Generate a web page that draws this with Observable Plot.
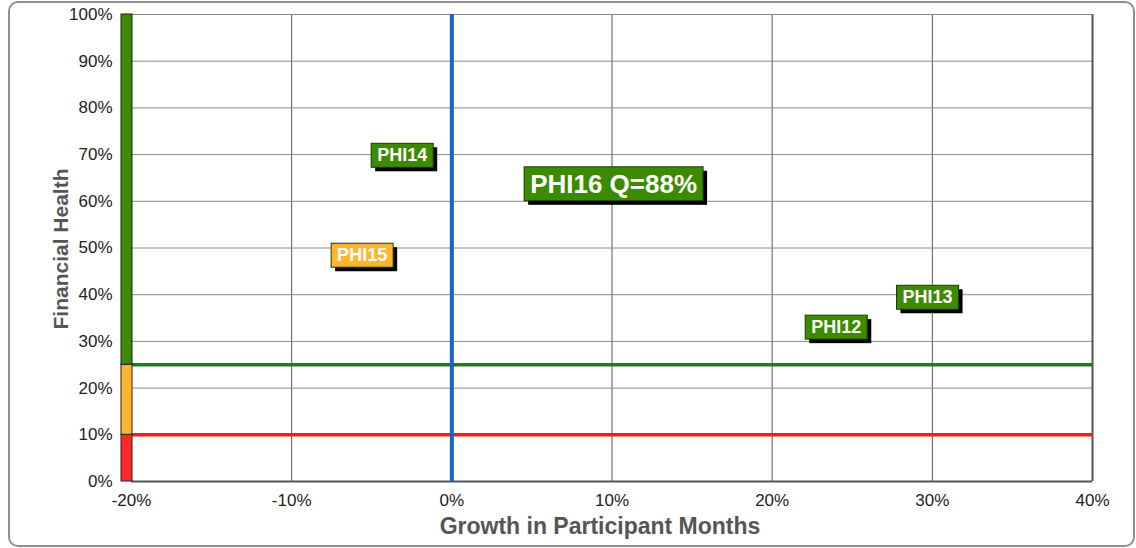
<!DOCTYPE html>
<html>
<head>
<meta charset="utf-8">
<script src="https://cdn.jsdelivr.net/npm/d3@7"></script>
<script src="https://cdn.jsdelivr.net/npm/@observablehq/plot@0.6"></script>
<style>
  body { margin: 0; background: #fff; }
  #wrap { position: relative; width: 1136px; height: 548px; }
  #border { position: absolute; left: 8px; top: 1px; width: 1123px; height: 542px; border: 2px solid #8f8f8f; border-radius: 10px; pointer-events: none; }
</style>
</head>
<body>
<div id="wrap"><div id="border"></div></div>
<script>
// ---- data ----
const names = ["PHI12", "PHI13", "PHI14", "PHI15", "PHI16 Q=88%"];
const growth = [0.240, 0.297, -0.031, -0.056, 0.101];
const health = [0.330, 0.394, 0.698, 0.484, 0.636];
const status = ["good", "good", "good", "warn", "good"];
const big = [false, false, false, false, true];

const xTicks = [-0.2, -0.1, 0, 0.1, 0.2, 0.3, 0.4];
const yTicks = [0, 0.1, 0.2, 0.3, 0.4, 0.5, 0.6, 0.7, 0.8, 0.9, 1.0];

const zoneLow = [0, 0.10, 0.25];
const zoneHigh = [0.10, 0.25, 1.0];
const zoneName = ["bad", "warn", "good"];

const greenThreshold = 0.25;
const redThreshold = 0.10;
const growthThreshold = 0;

const colors = { good: "#3c8a00", warn: "#ffb52e", bad: "#ff2828" };

const points = names.map((n, i) => ({ name: n, x: growth[i], y: health[i], status: status[i], big: big[i] }));
const zones = zoneLow.map((lo, i) => ({ lo, hi: zoneHigh[i], z: zoneName[i] }));

const pct = v => d3.format(".0%")(v).replace("\u2212", "-");
const FONT = "Liberation Sans, Arial, sans-serif";

const chart = Plot.plot({
  width: 1136,
  height: 548,
  marginLeft: 131,
  marginRight: 44,
  marginTop: 14,
  marginBottom: 67,
  style: { fontFamily: FONT, background: "transparent" },
  x: { domain: [-0.2, 0.4], label: null },
  y: { domain: [0, 1], label: null },
  marks: [
    Plot.ruleX(xTicks, { stroke: "#555", strokeWidth: 1 }),
    Plot.ruleY(yTicks, { stroke: "#888", strokeWidth: 1 }),
    Plot.ruleY([0], { stroke: "#555", strokeWidth: 2 }),
    Plot.ruleX([0.4], { stroke: "#555", strokeWidth: 2 }),
    Plot.ruleY([greenThreshold], { stroke: "#158214", strokeWidth: 3.5 }),
    Plot.ruleY([redThreshold], { stroke: "#ff1a1a", strokeWidth: 3.5 }),
    Plot.ruleX([growthThreshold], { stroke: "#1565c8", strokeWidth: 4 }),
    Plot.rect(zones, {
      x1: () => -0.2, x2: () => -0.2, y1: "lo", y2: "hi",
      fill: d => colors[d.z], stroke: "#222", strokeWidth: 1,
      insetLeft: -10, insetRight: -1
    }),
    Plot.text(points, {
      x: "x", y: "y", text: "name",
      fill: "white", fontWeight: "bold",
      fontSize: d => d.big ? 26 : 18,
      className: "lbl"
    }),
    Plot.axisX({ ticks: xTicks, tickFormat: pct, tickSize: 0, tickPadding: 12, fontSize: 17, fill: "#222" }),
    Plot.axisY({ ticks: yTicks, tickFormat: pct, tickSize: 0, tickPadding: 19, fontSize: 17, fill: "#222" })
  ]
});

document.getElementById("wrap").appendChild(chart);

// label boxes with shadows (drawn behind each text mark at the Plot-computed position)
const ns = "http://www.w3.org/2000/svg";
chart.querySelectorAll("g.lbl text").forEach((t, i) => {
  const bb = t.getBBox();
  const d = points[i];
  const padX = 6, padY = 2;
  const g = t.parentNode;
  const mk = (dx, dy, fill, stroke) => {
    const r = document.createElementNS(ns, "rect");
    r.setAttribute("x", bb.x - padX + dx);
    r.setAttribute("y", bb.y - padY + dy);
    r.setAttribute("width", bb.width + 2 * padX);
    r.setAttribute("height", bb.height + 2 * padY);
    r.setAttribute("fill", fill);
    if (stroke) { r.setAttribute("stroke", stroke); r.setAttribute("stroke-width", 1); }
    const tr = t.getAttribute("transform");
    if (tr) r.setAttribute("transform", tr);
    g.insertBefore(r, t);
  };
  mk(4, 4, "#000", null);
  mk(0, 0, colors[d.status], "#1a3a00");
});

// axis titles
const svg = d3.select(chart);
svg.append("text")
  .attr("x", 600).attr("y", 534)
  .attr("text-anchor", "middle")
  .attr("font-family", FONT)
  .attr("font-weight", "bold").attr("font-size", 23).attr("fill", "#555")
  .text("Growth in Participant Months");
svg.append("text")
  .attr("transform", "translate(68,249) rotate(-90)")
  .attr("text-anchor", "middle")
  .attr("font-family", FONT)
  .attr("font-weight", "bold").attr("font-size", 21).attr("fill", "#555")
  .text("Financial Health");
</script>
</body>
</html>
